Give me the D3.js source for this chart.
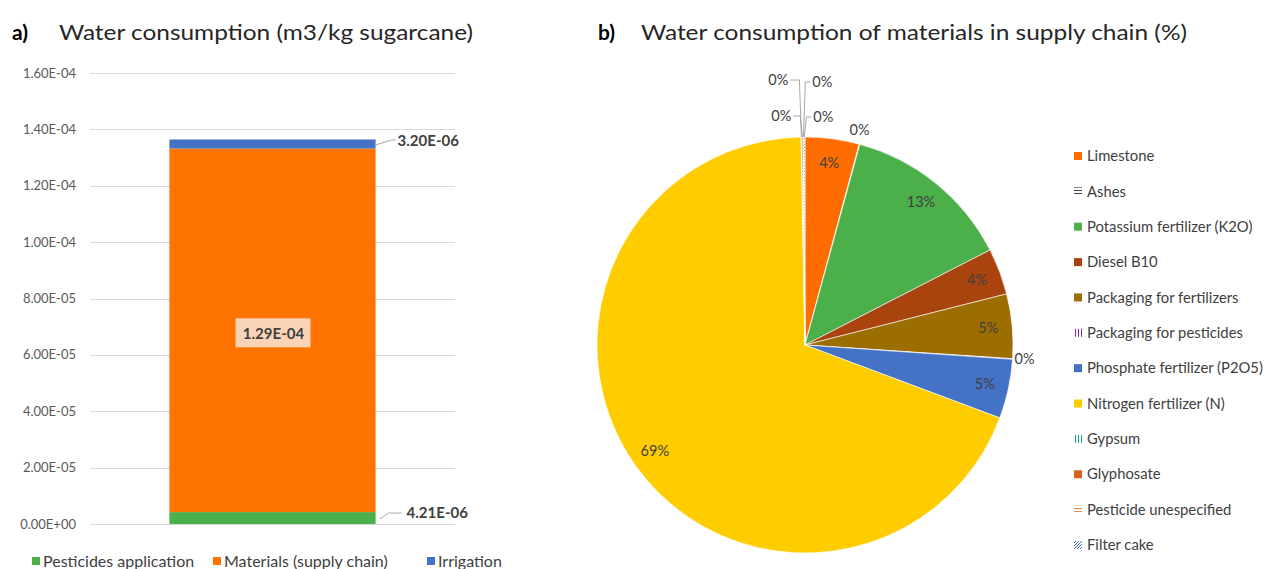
<!DOCTYPE html>
<html>
<head>
<meta charset="utf-8">
<script src="https://cdn.jsdelivr.net/npm/d3@7"></script>
<style>
  body { margin: 0; background: #fff; }
  svg { display: block; font-family: Lato, "Noto Sans", sans-serif; }
  .grid line { stroke: #d9d9d9; }
  .tick-label { fill: #595959; font-size: 13px; }
  .lbl { fill: #404040; }
</style>
</head>
<body>
<svg id="chart" width="1266" height="569"></svg>
<script>
// panel a) stacked bar
const barCategory = ["sugarcane"];
const barSeries = ["Pesticides application", "Materials (supply chain)", "Irrigation"];
const barValues = [4.21e-6, 1.29e-4, 3.20e-6];
const barLabels = ["4.21E-06", "1.29E-04", "3.20E-06"];
const barColors = ["#4cb04a", "#ff7300", "#4472c4"];
const yTicks = [0, 2e-5, 4e-5, 6e-5, 8e-5, 1e-4, 1.2e-4, 1.4e-4, 1.6e-4];
const yTickLabels = ["0.00E+00", "2.00E-05", "4.00E-05", "6.00E-05", "8.00E-05",
  "1.00E-04", "1.20E-04", "1.40E-04", "1.60E-04"];

// panel b) pie, shares in %
const pieNames = ["Limestone", "Ashes", "Potassium fertilizer (K2O)", "Diesel B10",
  "Packaging for fertilizers", "Packaging for pesticides", "Phosphate fertilizer (P2O5)",
  "Nitrogen fertilizer (N)", "Gypsum", "Glyphosate", "Pesticide unespecified", "Filter cake"];
const pieValues = [4.2, 0.05, 13.2, 3.6, 5.0, 0.05, 4.6, 69.0, 0.05, 0.1, 0.05, 0.1];
const pieFills = ["#ff6d00", "url(#p-ashes)", "#4cb04a", "#a9440e", "#9c6d00",
  "url(#p-packpest)", "#4472c4", "#ffcc00", "url(#p-gypsum)", "#d5621c",
  "url(#p-pestun)", "url(#p-filter)"];

const svg = d3.select("#chart");

// hatch patterns for the tiny slices
const defs = svg.append("defs");
function hatch(id, color, kind) {
  const p = defs.append("pattern").attr("id", id)
    .attr("patternUnits", "userSpaceOnUse").attr("width", 3).attr("height", 3);
  p.append("rect").attr("width", 3).attr("height", 3).attr("fill", "#fff");
  if (kind === "h") p.append("rect").attr("y", 1).attr("width", 3).attr("height", 1).attr("fill", color);
  if (kind === "v") p.append("rect").attr("x", 1).attr("width", 1).attr("height", 3).attr("fill", color);
  if (kind === "d") p.append("path").attr("d", "M0,3L3,0").attr("stroke", color).attr("stroke-width", 1);
}
hatch("p-ashes", "#404040", "h");
hatch("p-packpest", "#7030a0", "v");
hatch("p-gypsum", "#1fa57a", "v");
hatch("p-pestun", "#e98a4a", "h");
hatch("p-filter", "#4472c4", "d");

// ---------- titles ----------
function title(x, y, tag, text, width) {
  svg.append("text").attr("x", x).attr("y", y).attr("font-size", 21)
    .attr("font-weight", "bold").attr("fill", "#000").text(tag);
  svg.append("text").attr("x", x + (tag === "a)" ? 47 : 43)).attr("y", y)
    .attr("font-size", 21).attr("fill", "#262626")
    .attr("textLength", width).attr("lengthAdjust", "spacingAndGlyphs").text(text);
}
title(12, 40, "a)", "Water consumption  (m3/kg sugarcane)", 414);
title(598, 40, "b)", "Water consumption of materials in supply chain (%)", 546);

// ---------- bar chart ----------
const y = d3.scaleLinear().domain([0, 1.6e-4]).range([524, 73]);
const x = d3.scaleBand().domain(barCategory).range([90, 455])
  .paddingInner(0.278).paddingOuter(0.278);

svg.append("g").attr("class", "grid").selectAll("line").data(yTicks).join("line")
  .attr("x1", 90).attr("x2", 455)
  .attr("y1", d => Math.round(y(d)) + 0.5).attr("y2", d => Math.round(y(d)) + 0.5);

svg.append("g").selectAll("text").data(yTicks).join("text")
  .attr("class", "tick-label").attr("x", 76).attr("y", d => y(d)).attr("dy", "0.35em")
  .attr("text-anchor", "end").text((d, i) => yTickLabels[i]);

const stacked = d3.stack().keys(barSeries)([
  Object.fromEntries(barSeries.map((s, i) => [s, barValues[i]]))
]);

svg.append("g").selectAll("rect").data(stacked).join("rect")
  .attr("x", x(barCategory[0])).attr("width", x.bandwidth())
  .attr("y", d => y(d[0][1])).attr("height", d => y(d[0][0]) - y(d[0][1]))
  .attr("fill", (d, i) => barColors[i]);

const xr = x(barCategory[0]) + x.bandwidth();
const xm = x(barCategory[0]) + x.bandwidth() / 2;

// middle label with light box
const midY = y((stacked[1][0][0] + stacked[1][0][1]) / 2) + 2;
svg.append("rect").attr("x", xm - 37).attr("y", midY - 14).attr("width", 75).attr("height", 29)
  .attr("fill", "#fbd4b8");
svg.append("text").attr("class", "lbl").attr("x", xm + 1).attr("y", midY + 1).attr("dy", "0.35em")
  .attr("text-anchor", "middle").attr("font-size", 15).attr("font-weight", "bold").text(barLabels[1]);

// irrigation label
const irY = y((stacked[2][0][0] + stacked[2][0][1]) / 2);
svg.append("polyline").attr("points", `${xr},${irY + 1} ${xr + 16},${irY - 4} ${xr + 20},${irY - 4}`)
  .attr("fill", "none").attr("stroke", "#a6a6a6");
svg.append("text").attr("class", "lbl").attr("x", xr + 22).attr("y", irY - 3).attr("dy", "0.35em")
  .attr("font-size", 15).attr("font-weight", "bold").text(barLabels[2]);

// pesticides label
const peY = y((stacked[0][0][0] + stacked[0][0][1]) / 2);
svg.append("polyline").attr("points", `${xr + 4},${peY + 1} ${xr + 13},${peY - 5} ${xr + 26},${peY - 5}`)
  .attr("fill", "none").attr("stroke", "#a6a6a6");
svg.append("text").attr("class", "lbl").attr("x", xr + 31).attr("y", peY - 5).attr("dy", "0.35em")
  .attr("font-size", 15).attr("font-weight", "bold").text(barLabels[0]);

// bottom legend
const legA = svg.append("g");
const legAx = [32, 213, 427];
barSeries.forEach((s, i) => {
  legA.append("rect").attr("x", legAx[i]).attr("y", 557).attr("width", 8).attr("height", 8)
    .attr("fill", barColors[i]);
  legA.append("text").attr("x", legAx[i] + 11).attr("y", 561).attr("dy", "0.35em")
    .attr("font-size", 16).attr("fill", "#404040").text(s);
});

// ---------- pie chart ----------
const cx = 805, cy = 345, R = 208;
const pie = d3.pie().sort(null).value(d => d)(pieValues);
const arc = d3.arc().innerRadius(0).outerRadius(R);
const labelArc = d3.arc().innerRadius(184).outerRadius(184);
const gp = svg.append("g").attr("transform", `translate(${cx},${cy})`);

gp.selectAll("path").data(pie).join("path")
  .attr("d", arc).attr("fill", (d, i) => pieFills[i])
  .attr("stroke", "#fff").attr("stroke-width", 0.6);

// inside labels for the visible slices
gp.selectAll("text.in").data(pie.filter(d => d.data >= 1)).join("text")
  .attr("class", "lbl in")
  .attr("transform", d => `translate(${labelArc.centroid(d)})`)
  .attr("text-anchor", "middle").attr("dy", "0.35em").attr("font-size", 14.5)
  .attr("fill", d => d.index === 3 ? "#5a2a10" : "#404040")
  .text(d => Math.round(d.data) + "%");

// outside labels for the ~0% slices, offsets from the slice edge
const zeroOffsets = {
  "Ashes": [0, -14, 0],
  "Packaging for pesticides": [2, 0, 0],
  "Gypsum": [-11, -57, 1],
  "Glyphosate": [-9, -21, 1],
  "Pesticide unespecified": [7, -55, 1],
  "Filter cake": [7, -20, 1]
};
pie.filter(d => d.data < 1).forEach(d => {
  const a = (d.startAngle + d.endAngle) / 2;
  const ax = R * Math.sin(a), ay = -R * Math.cos(a);
  const [dx, dy, lead] = zeroOffsets[pieNames[d.index]];
  const lx = ax + dx, ly = ay + dy;
  let anchor = "middle";
  if (lead) {
    const s = Math.sign(dx);
    gp.append("polyline")
      .attr("points", `${ax},${ay} ${ax + s * 2},${ly} ${lx},${ly}`)
      .attr("fill", "none").attr("stroke", "#a6a6a6");
    anchor = s < 0 ? "end" : "start";
  } else if (dx > 0) anchor = "start";
  gp.append("text").attr("class", "lbl")
    .attr("x", lead ? lx + Math.sign(dx) * 2 : lx).attr("y", ly).attr("dy", "0.35em")
    .attr("text-anchor", anchor).attr("font-size", 14.5).text(Math.round(d.data) + "%");
});

// pie legend
const legB = svg.append("g");
const legStep = d3.scalePoint().domain(pieNames).range([156, 545]);
pieNames.forEach((n, i) => {
  const yy = legStep(n);
  legB.append("rect").attr("x", 1074).attr("y", yy - 4).attr("width", 8).attr("height", 8)
    .attr("fill", pieFills[i]);
  legB.append("text").attr("x", 1087).attr("y", yy).attr("dy", "0.35em")
    .attr("font-size", 14.8).attr("fill", "#404040").text(n);
});
</script>
</body>
</html>
